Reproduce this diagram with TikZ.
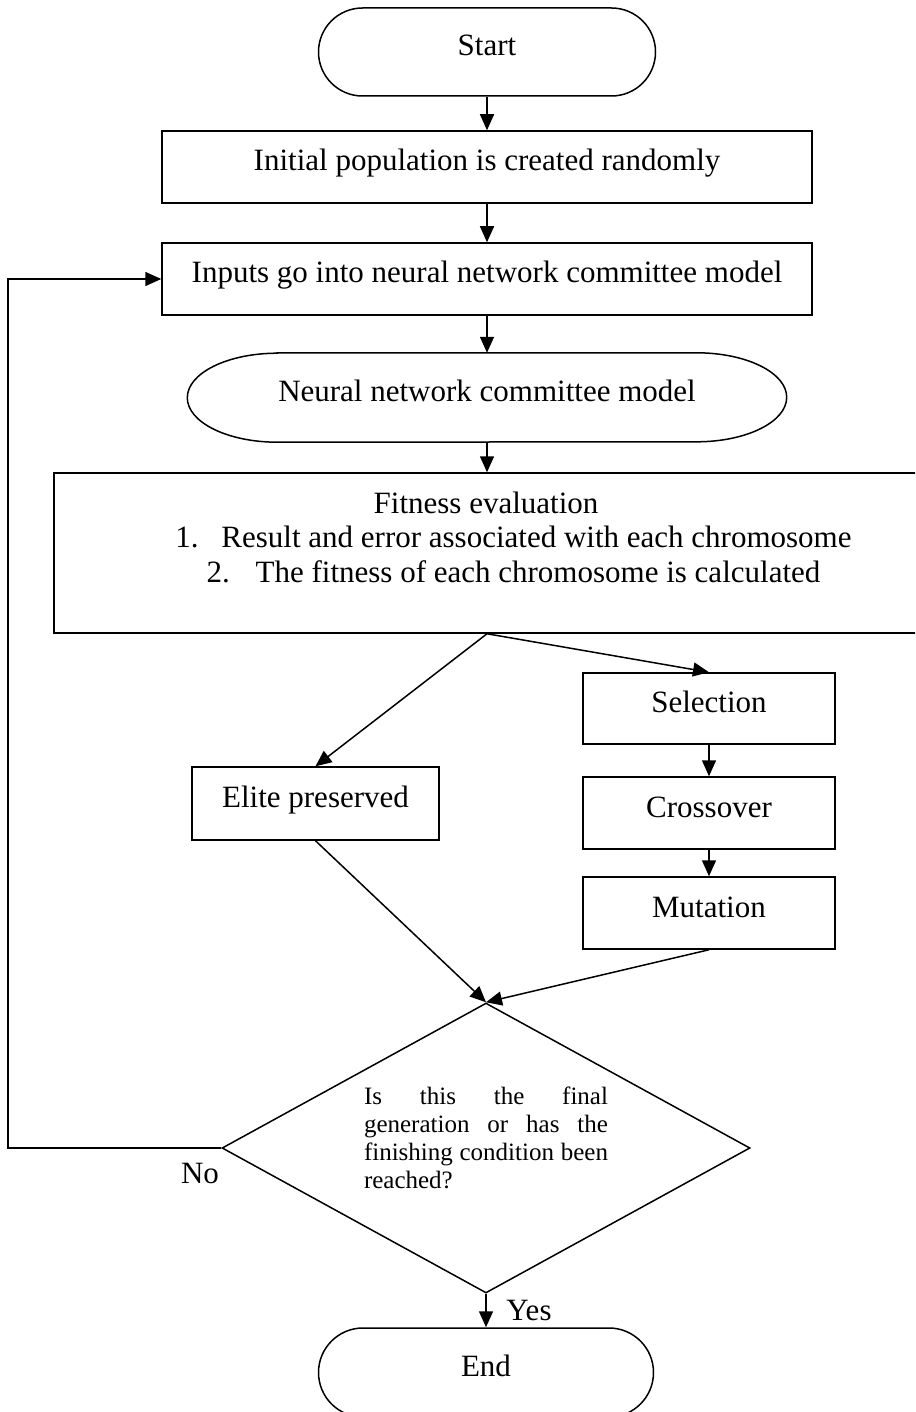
\documentclass[tikz,border=0pt]{standalone}
\usepackage{fontspec}
\setmainfont{Liberation Serif}
\usetikzlibrary{arrows.meta,shapes.misc,shapes.geometric}
\newcommand\bigfont{\fontsize{31}{36}\selectfont}
\newcommand\smallfont{\fontsize{25}{28}\selectfont}
\begin{document}
\begin{tikzpicture}[x=1pt,y=-1pt,
  every node/.style={inner sep=0pt, font=\bigfont},
  raised/.style={text height=22pt, text depth=14pt},
  stepbox/.style={draw, line width=1.5pt, rectangle, raised},
  term/.style={draw, line width=1.5pt, rounded rectangle, raised},
  plain/.style={line width=1.5pt},
  conn/.style={line width=1.5pt, -{Triangle[length=16pt,width=14pt]}}]
\useasboundingbox (0,0) rectangle (915,1412);
\clip (0,0) rectangle (915,1412);

% terminals and process boxes
\node[term, minimum width=337pt, minimum height=88pt] (start) at (487,52) {Start};
\node[stepbox, minimum width=650pt, minimum height=72pt] (init) at (487,167) {Initial population is created randomly};
\node[stepbox, minimum width=650pt, minimum height=72pt] (inputs) at (487,279) {Inputs go into neural network committee model};

% committee model: rectangle with elliptical ends
\node[raised, minimum width=599pt, minimum height=89pt] (nn) at (487,397.5) {Neural network committee model};
\draw[plain] ([xshift=90pt]nn.north west) -- ([xshift=-90pt]nn.north east)
  arc[start angle=90, end angle=-90, x radius=90pt, y radius=44.5pt]
  -- ([xshift=90pt]nn.south west)
  arc[start angle=270, end angle=90, x radius=90pt, y radius=44.5pt] -- cycle;

% fitness evaluation box (runs past the right edge)
\node[stepbox, minimum width=918pt, minimum height=160pt] (fit) at (513,553) {};
\node (fitT) at (486,503) {Fitness evaluation};
\node (fit1) at (513.5,537) {\makebox[46pt][l]{1.}Result and error associated with each chromosome};
\node (fit2) at (513.5,572) {\makebox[49pt][l]{2.}The fitness of each chromosome is calculated};

% genetic operators
\node[stepbox, minimum width=252pt, minimum height=71pt] (sel) at (709,708.5) {Selection};
\node[stepbox, minimum width=247pt, minimum height=73pt] (elite) at (315.5,803.5) {Elite preserved};
\node[stepbox, minimum width=252pt, minimum height=72pt] (cross) at (709,813) {Crossover};
\node[stepbox, minimum width=252pt, minimum height=72pt] (mut) at (709,913) {Mutation};

% termination test
\node[draw, line width=1.5pt, diamond, minimum width=528pt, minimum height=290pt] (dec) at (486,1148) {};
\node[text width=244pt, align=justify, font=\smallfont] (decT) at (486,1138)
  {Is this the final\linebreak generation or has the\linebreak finishing condition been\linebreak reached?};

\node[term, minimum width=335pt, minimum height=89pt] (end) at (486,1372.5) {End};

% connectors
\draw[conn] (start.south) -- (init.north);
\draw[conn] (init.south) -- (inputs.north);
\draw[conn] (inputs.south) -- (nn.north);
\draw[conn] (nn.south) -- (nn.south |- fit.north);
\coordinate (fork) at (nn.south |- fit.south);
\draw[conn] (fork) -- (sel.north);
\draw[conn] (fork) -- (elite.north);
\draw[conn] (sel.south) -- (cross.north);
\draw[conn] (cross.south) -- (mut.north);
\draw[conn] (elite.south) -- (dec.north);
\draw[conn] (mut.south) -- (dec.north);
\draw[conn] (dec.south) -- (end.north);
\coordinate (back) at (8,1148);
\draw[conn] (dec.west) -- (back) |- (inputs.west);

% branch labels
\node (no) at (200,1173) {No};
\node (yes) at (529,1310) {Yes};
\end{tikzpicture}
\end{document}
